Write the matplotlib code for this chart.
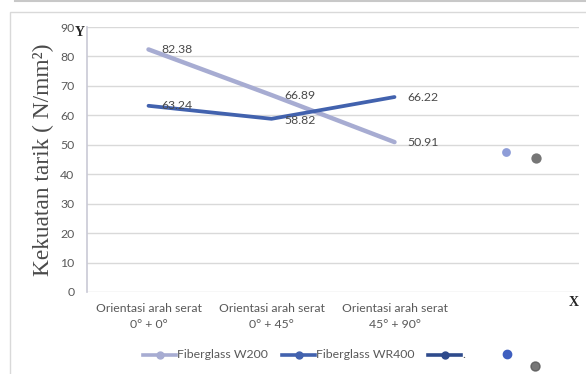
import matplotlib
matplotlib.use("Agg")
import matplotlib.pyplot as plt
from matplotlib.lines import Line2D
from matplotlib.patches import Rectangle

# Data
categories = ["Orientasi arah serat\n0° + 0°",
              "Orientasi arah serat\n0° + 45°",
              "Orientasi arah serat\n45° + 90°",
              ""]
w200 = [82.38, 66.89, 50.91]
wr400 = [63.24, 58.82, 66.22]
stray_x = [2.91, 3.15]
stray_y = [47.6, 45.6]
series_names = ["Fiberglass W200", "Fiberglass WR400", "."]

W, H = 586, 374
fig = plt.figure(figsize=(W / 100, H / 100), dpi=100)
fig.patch.set_facecolor("white")

tick_font = "Lato"
tick_color = "#595959"
fs = 8.8

# outer frame and top rule
fig.add_artist(Rectangle((10 / W, -0.05), 1.0, 1 - 12 / H + 0.05,
                         transform=fig.transFigure, fill=False,
                         edgecolor="#d9d9d9", lw=1.0))
fig.add_artist(Line2D([15 / W, 1.0], [1 - 1 / H, 1 - 1 / H],
                      transform=fig.transFigure, color="#c8c8c8", lw=1.5))

ax = fig.add_axes([87 / W, 1 - 292 / H, (579 - 87) / W, (292 - 27) / H])
ax.set_xlim(-0.5, 3.5)
ax.set_ylim(0, 90)
ax.set_yticks(range(0, 91, 10))
ax.set_xticks(range(len(categories)))
ax.set_xticklabels(categories, fontsize=fs, color=tick_color,
                   family=tick_font, linespacing=1.5)
ax.tick_params(axis="both", length=0, labelsize=fs, labelcolor=tick_color)
ax.tick_params(axis="y", pad=9)
ax.tick_params(axis="x", pad=8)
for lab in ax.get_yticklabels():
    lab.set_family(tick_font)
ax.grid(axis="y", color="#d9d9d9", lw=1.0)
ax.set_axisbelow(True)
for s in ["top", "right", "bottom"]:
    ax.spines[s].set_visible(False)
ax.spines["left"].set_color("#c9c9d6")
ax.spines["left"].set_linewidth(1.2)

xs = range(len(w200))
ax.plot(xs, w200, color="#a7acd2", lw=3.2, solid_capstyle="round", zorder=3)
ax.plot(xs, wr400, color="#4262ae", lw=2.7, solid_capstyle="round", zorder=4)

for x, v in zip(xs, w200):
    ax.annotate(f"{v:.2f}", (x, v), xytext=(9, 0), textcoords="offset points",
                va="center", ha="left", fontsize=fs, color="#4a4a4a",
                family=tick_font, zorder=5)
for x, v in zip(xs, wr400):
    ax.annotate(f"{v:.2f}", (x, v), xytext=(9, -1 if x == 1 else 0),
                textcoords="offset points",
                va="center", ha="left", fontsize=fs, color="#4a4a4a",
                family=tick_font, zorder=5)

ax.scatter([stray_x[0]], [stray_y[0]], s=40, color="#8e9dd8", zorder=5, lw=0)
ax.scatter([stray_x[1]], [stray_y[1]], s=55, color="#5e5e5e", zorder=5, lw=0,
           alpha=0.85)

# axis letters and title
fig.text(43 / W, 1 - 160 / H, "Kekuatan tarik ( N/mm²)", rotation=90,
         ha="center", va="center", fontsize=16.8, family="Liberation Serif",
         color="#4a4a4a")
fig.text(80 / W, 1 - 32 / H, "Y", ha="center", va="center", fontsize=10,
         family="Liberation Serif", color="#262626", fontweight="bold")
fig.text(574 / W, 1 - 302 / H, "X", ha="center", va="center", fontsize=10,
         family="Liberation Serif", color="#262626", fontweight="bold")

# legend
leg_y = 1 - 355 / H
leg_items = [(143, 176, "#a7acd2", series_names[0]),
             (282, 315, "#4262ae", series_names[1]),
             (428, 461, "#2f4b8c", series_names[2])]
for x0, x1, c, name in leg_items:
    fig.add_artist(Line2D([x0 / W, x1 / W], [leg_y, leg_y],
                          transform=fig.transFigure, color=c, lw=2.6))
    fig.add_artist(Line2D([(x0 + x1) / 2 / W], [leg_y],
                          transform=fig.transFigure, color=c, marker="o",
                          markersize=5, lw=0))
    fig.text((x1 + 1) / W, leg_y, name, ha="left", va="center", fontsize=fs,
             color=tick_color, family=tick_font)
fig.add_artist(Line2D([507 / W], [1 - 354 / H], transform=fig.transFigure,
                      color="#3f5fbf", marker="o", markersize=6, lw=0))
fig.add_artist(Line2D([535 / W], [1 - 366 / H], transform=fig.transFigure,
                      color="#555555", marker="o", markersize=6.5, lw=0,
                      alpha=0.8))

fig.savefig("out.png", dpi=100)
